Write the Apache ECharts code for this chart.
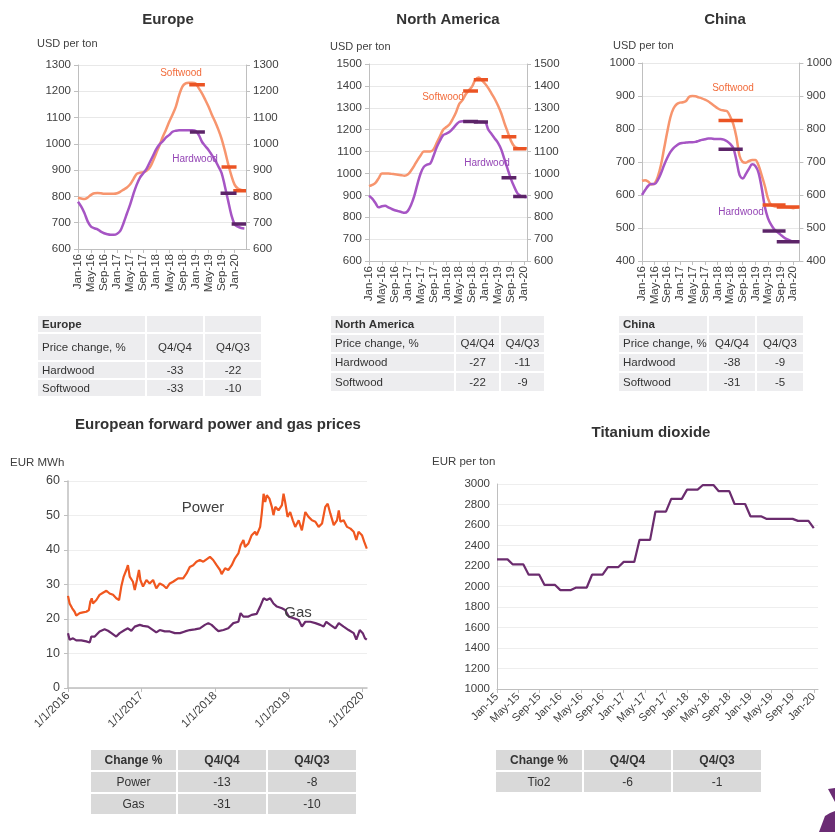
<!DOCTYPE html>
<html>
<head>
<meta charset="utf-8">
<script src="https://cdn.jsdelivr.net/npm/echarts@6/dist/echarts.min.js"></script>
<style>
  html, body { margin: 0; padding: 0; background: #ffffff; }
  #chart { width: 835px; height: 832px; }
</style>
</head>
<body>
<div id="chart"></div>
<script>
// ---------- Wood prices, USD per ton, monthly from Jan-16 ----------
const woodTickLabels = ['Jan-16', 'May-16', 'Sep-16', 'Jan-17', 'May-17', 'Sep-17', 'Jan-18',
  'May-18', 'Sep-18', 'Jan-19', 'May-19', 'Sep-19', 'Jan-20'];

const euSoftwood = [795, 792, 790, 796, 806, 812, 813, 812, 810, 810, 810, 810,
  812, 818, 826, 834, 846, 866, 886, 890, 892, 898, 910, 935,
  965, 995, 1027, 1055, 1085, 1112, 1142, 1185, 1218, 1230, 1232, 1232,
  1230, 1212, 1192, 1168, 1142, 1112, 1085, 1055, 1020, 975, 925, 880,
  845, 830, 825, 823];
const euHardwood = [780, 761, 736, 704, 685, 679, 675, 666, 660, 656, 654, 654,
  658, 670, 700, 735, 770, 810, 845, 872, 888, 905, 930, 955,
  980, 998, 1010, 1025, 1034, 1046, 1050, 1052, 1052, 1052, 1052, 1052,
  1050, 1034, 1008, 992, 977, 958, 939, 915, 890, 840, 785, 730,
  695, 685, 680, 678];

const naSoftwood = [942, 948, 957, 978, 1000, 1000, 1000, 998, 996, 994, 992, 990,
  995, 1012, 1035, 1060, 1082, 1100, 1100, 1100, 1110, 1140, 1170, 1200,
  1212, 1225, 1250, 1280, 1318, 1335, 1362, 1380, 1398, 1428, 1438, 1425,
  1410, 1390, 1365, 1340, 1310, 1275, 1230, 1190, 1150, 1125, 1116, 1115,
  1115, 1115];
const naHardwood = [898, 885, 865, 845, 850, 852, 845, 838, 832, 828, 824, 820,
  828, 855, 895, 950, 1000, 1030, 1040, 1045, 1080, 1120, 1150, 1175,
  1182, 1190, 1205, 1222, 1236, 1238, 1237, 1237, 1237, 1236, 1236, 1235,
  1234, 1200, 1180, 1160, 1140, 1110, 1065, 1020, 975, 940, 910, 898,
  893, 892];

const cnSoftwood = [643, 645, 640, 632, 635, 655, 690, 740, 790, 835, 862, 875,
  880, 881, 885, 898, 900, 899, 896, 893, 889, 884, 877, 870,
  863, 858, 856, 854, 838, 815, 775, 718, 700, 698, 703, 706,
  706, 690, 660, 628, 590, 570, 566, 565, 564, 564, 563, 562,
  560, 562, 564];
const cnHardwood = [600, 615, 628, 633, 633, 645, 665, 690, 712, 730, 742, 750,
  756, 758, 759, 760, 760, 761, 764, 767, 769, 771, 771, 770,
  770, 770, 768, 763, 755, 742, 705, 660, 650, 664, 680, 693,
  688, 668, 622, 565, 530, 510, 496, 488, 480, 472, 466, 462,
  459, 459, 460];

// Quarterly average bars: [from month, to month, value]
const euSoftQuarters = [[34.1, 38.9, 1225], [44.0, 48.6, 912], [47.6, 51.5, 822]];
const euHardQuarters = [[34.3, 38.9, 1045], [43.7, 48.6, 812], [47.1, 51.5, 695]];
const naSoftQuarters = [[29.2, 33.8, 1377], [32.5, 36.9, 1428], [41.1, 45.7, 1168], [44.7, 48.8, 1113]];
const naHardQuarters = [[29.2, 33.8, 1237], [32.5, 36.9, 1235], [41.1, 45.7, 980], [44.7, 48.8, 895]];
const cnSoftQuarters = [[24.3, 32.0, 826], [38.3, 45.6, 570], [42.8, 50.0, 564]];
const cnHardQuarters = [[24.3, 32.0, 739], [38.3, 45.6, 491], [42.8, 50.0, 458]];

// Price change tables, %
const woodTableHead = ['Price change, %', 'Q4/Q4', 'Q4/Q3'];
const euHardChange = [-33, -22];
const euSoftChange = [-33, -10];
const naHardChange = [-27, -11];
const naSoftChange = [-22, -9];
const cnHardChange = [-38, -9];
const cnSoftChange = [-31, -5];

// ---------- European forward power and gas, EUR/MWh ----------
const powerTickLabels = ['1/1/2016', '1/1/2017', '1/1/2018', '1/1/2019', '1/1/2020'];
const powerDates = ['2016-01-01', '2016-01-09', '2016-01-22', '2016-02-03', '2016-02-11', '2016-02-28',
  '2016-03-15', '2016-04-01', '2016-04-14', '2016-04-21', '2016-04-28', '2016-05-04', '2016-05-21',
  '2016-06-06', '2016-06-23', '2016-07-10', '2016-07-26', '2016-08-12', '2016-08-28', '2016-09-11',
  '2016-09-22', '2016-10-04', '2016-10-17', '2016-10-25', '2016-11-03', '2016-11-19', '2016-11-28',
  '2016-12-09', '2016-12-19', '2016-12-26', '2017-01-08', '2017-01-25', '2017-02-10', '2017-02-27',
  '2017-03-15', '2017-04-01', '2017-04-18', '2017-05-04', '2017-05-21', '2017-06-06', '2017-07-01',
  '2017-07-26', '2017-08-12', '2017-08-28', '2017-09-14', '2017-09-30', '2017-10-17', '2017-11-03',
  '2017-11-19', '2017-12-06', '2017-12-22', '2018-01-08', '2018-01-25', '2018-02-02', '2018-02-19',
  '2018-03-07', '2018-03-24', '2018-04-09', '2018-04-26', '2018-05-07', '2018-05-21', '2018-05-29',
  '2018-06-15', '2018-07-01', '2018-07-18', '2018-07-26', '2018-08-12', '2018-08-20', '2018-08-29',
  '2018-09-06', '2018-09-14', '2018-09-27', '2018-10-09', '2018-10-17', '2018-10-26', '2018-11-11',
  '2018-11-28', '2018-12-06', '2018-12-14', '2018-12-26', '2019-01-08', '2019-01-21', '2019-02-02',
  '2019-02-19', '2019-03-07', '2019-03-24', '2019-04-09', '2019-04-26', '2019-05-13', '2019-05-29',
  '2019-06-15', '2019-07-01', '2019-07-13', '2019-07-26', '2019-08-12', '2019-08-28', '2019-09-06',
  '2019-09-14', '2019-09-30', '2019-10-17', '2019-11-03', '2019-11-19', '2019-12-02', '2019-12-13',
  '2019-12-30', '2020-01-10', '2020-01-23'];
const powerValues = [26.7, 24.5, 23.1, 22.1, 21.0, 21.7,
  21.9, 22.1, 22.6, 25.0, 26.0, 24.5, 25.5,
  27.0, 27.6, 28.2, 27.4, 27.0, 26.0, 25.5,
  29.4, 32.3, 34.2, 35.6, 32.3, 30.8, 28.4,
  31.3, 34.2, 31.3, 29.4, 31.3, 30.3, 31.3,
  28.9, 30.3, 29.8, 28.9, 30.3, 30.8, 31.8,
  31.8, 33.2, 35.1, 35.6, 36.6, 37.1, 36.6,
  37.3, 38.0, 37.1, 35.6, 34.2, 33.0, 34.7,
  34.2, 35.6, 37.6, 39.0, 41.4, 42.9, 40.9,
  41.9, 44.3, 45.3, 44.3, 46.7, 50.6, 56.3,
  53.9, 55.9, 54.9, 52.5, 50.1, 52.5, 51.5,
  53.0, 56.3, 53.9, 49.6, 51.0, 48.6, 46.7,
  48.6, 45.7, 51.0, 49.6, 48.6, 48.2, 46.7,
  47.7, 52.5, 53.4, 50.6, 47.2, 48.6, 51.5,
  48.2, 48.6, 46.7, 46.2, 45.3, 42.9, 45.3,
  44.3, 42.4, 40.4];
const gasDates = ['2016-01-01', '2016-01-09', '2016-01-26', '2016-02-11', '2016-03-07', '2016-04-01',
  '2016-04-18', '2016-04-26', '2016-05-13', '2016-06-06', '2016-07-01', '2016-07-18', '2016-08-04',
  '2016-08-28', '2016-09-14', '2016-10-09', '2016-10-25', '2016-11-11', '2016-11-28', '2016-12-23',
  '2017-01-08', '2017-02-02', '2017-02-27', '2017-03-15', '2017-04-01', '2017-04-26', '2017-05-21',
  '2017-06-15', '2017-07-10', '2017-08-04', '2017-08-28', '2017-09-22', '2017-10-17', '2017-11-11',
  '2017-11-28', '2017-12-14', '2018-01-01', '2018-01-17', '2018-02-11', '2018-03-07', '2018-04-01',
  '2018-04-26', '2018-05-07', '2018-05-21', '2018-06-15', '2018-07-01', '2018-07-26', '2018-08-12',
  '2018-08-29', '2018-09-14', '2018-10-01', '2018-10-17', '2018-11-03', '2018-11-28', '2018-12-14',
  '2019-01-01', '2019-01-26', '2019-02-19', '2019-03-07', '2019-03-24', '2019-04-18', '2019-05-13',
  '2019-06-06', '2019-06-23', '2019-07-06', '2019-07-26', '2019-08-20', '2019-09-06', '2019-09-30',
  '2019-10-25', '2019-11-19', '2019-12-02', '2019-12-19', '2020-01-03', '2020-01-14', '2020-01-23'];
const gasValues = [15.9, 14.0, 14.4, 13.8, 13.8, 13.5,
  13.2, 14.9, 14.9, 16.4, 17.0, 16.6, 15.9,
  14.9, 15.9, 16.8, 17.3, 16.6, 17.8, 18.3,
  18.0, 17.8, 16.8, 16.1, 16.8, 16.4, 16.4,
  15.9, 15.9, 16.4, 16.8, 17.0, 17.3, 18.3,
  18.8, 18.3, 17.3, 16.5, 16.8, 17.3, 18.8,
  19.2, 21.7, 20.7, 20.7, 21.2, 21.5, 23.6,
  26.0, 25.5, 26.0, 24.5, 23.6, 23.1, 22.6,
  20.7, 20.2, 19.7, 17.8, 19.2, 19.2, 18.8,
  18.3, 17.8, 19.2, 18.3, 17.3, 18.8, 17.8,
  16.8, 15.9, 14.0, 16.8, 15.9, 14.4, 14.0];
const powerChange = [-13, -8];
const gasChange = [-31, -10];
const energyTableHead = ['Change %', 'Q4/Q4', 'Q4/Q3'];

// ---------- Titanium dioxide, EUR per ton, monthly from Jan-15 ----------
const tiTickLabels = ['Jan-15', 'May-15', 'Sep-15', 'Jan-16', 'May-16', 'Sep-16', 'Jan-17', 'May-17',
  'Sep-17', 'Jan-18', 'May-18', 'Sep-18', 'Jan-19', 'May-19', 'Sep-19', 'Jan-20'];
const tiValues = [2265, 2265, 2265, 2215, 2215, 2215, 2115, 2115, 2115, 2015, 2015, 2015,
  1965, 1965, 1965, 1990, 1990, 1990, 2115, 2115, 2115, 2190, 2190, 2190,
  2240, 2240, 2240, 2455, 2455, 2455, 2730, 2730, 2730, 2855, 2855, 2855,
  2945, 2945, 2945, 2990, 2990, 2990, 2930, 2930, 2930, 2805, 2805, 2805,
  2685, 2685, 2685, 2660, 2660, 2660, 2660, 2660, 2660, 2640, 2640, 2640,
  2570];
const tio2Change = [-6, -1];

// ---------- styling ----------
const FONT = '"Liberation Sans", Arial, sans-serif';
const TEXT = '#404040';
const AXIS = '#BFBFBF';
const GRIDLINE = '#E8E8E8';
const SOFT = '#F7956E', SOFT_BAR = '#EB5424', SOFT_TXT = '#F26C3C';
const HARD = '#A655C4', HARD_BAR = '#5C2468', HARD_TXT = '#9445B5';
const plain = v => String(v);

const woodTickIdx = woodTickLabels.map((_, i) => i * 4);
const tiTickIdx = tiTickLabels.map((_, i) => i * 4);
const powerTickYears = powerTickLabels.map((_, i) => 2016 + i);

function toYear(d) {
  const t = Date.parse(d + 'T00:00:00Z');
  const y = new Date(t).getUTCFullYear();
  const s = Date.UTC(y, 0, 1), e = Date.UTC(y + 1, 0, 1);
  return y + (t - s) / (e - s);
}

const grids = [
  { left: 78, top: 65, width: 168, height: 184 },    // Europe
  { left: 369, top: 64, width: 158, height: 197 },   // North America
  { left: 642, top: 63, width: 159, height: 198 },   // China
  { left: 68, top: 481, width: 299, height: 207 },   // power & gas
  { left: 497, top: 484, width: 321, height: 205 }   // TiO2
].map(g => Object.assign({ containLabel: false }, g));

function woodX(gi, max) {
  return {
    type: 'value', gridIndex: gi, min: 0, max: max,
    axisLine: { show: true, onZero: false, lineStyle: { color: AXIS } },
    axisTick: { show: true, customValues: woodTickIdx, length: 4, lineStyle: { color: AXIS } },
    axisLabel: {
      customValues: woodTickIdx, rotate: 90, margin: 5, color: TEXT, fontSize: 11.5, fontFamily: FONT,
      formatter: v => woodTickLabels[Math.round(v / 4)]
    },
    splitLine: { show: false }
  };
}
function woodY(gi, min, max, pos) {
  return {
    type: 'value', gridIndex: gi, position: pos, min: min, max: max, interval: 100,
    axisLine: { show: true, lineStyle: { color: AXIS } },
    axisTick: { show: true, length: 4, lineStyle: { color: AXIS } },
    axisLabel: { color: TEXT, fontSize: 11.5, fontFamily: FONT, margin: 7, formatter: plain },
    splitLine: { show: pos === 'left', lineStyle: { color: GRIDLINE } }
  };
}

const xAxes = [
  woodX(0, 51.5), woodX(1, 49), woodX(2, 50),
  {
    type: 'value', gridIndex: 3, min: 2016, max: toYear('2020-01-24'),
    axisLine: { show: true, onZero: false, lineStyle: { color: AXIS, width: 1.5 } },
    axisTick: { show: true, customValues: powerTickYears, length: 4, lineStyle: { color: AXIS } },
    axisLabel: {
      customValues: powerTickYears, rotate: 45, margin: 6, color: TEXT, fontSize: 11.5, fontFamily: FONT,
      formatter: v => powerTickLabels[Math.round(v) - 2016]
    },
    splitLine: { show: false }
  },
  {
    type: 'value', gridIndex: 4, min: 0, max: 60.8,
    axisLine: { show: true, onZero: false, lineStyle: { color: AXIS } },
    axisTick: { show: true, customValues: tiTickIdx, length: 4, lineStyle: { color: AXIS } },
    axisLabel: {
      customValues: tiTickIdx, rotate: 45, margin: 6, color: TEXT, fontSize: 11, fontFamily: FONT,
      formatter: v => tiTickLabels[Math.round(v / 4)]
    },
    splitLine: { show: false }
  }
];

const yAxes = [
  woodY(0, 600, 1300, 'left'), woodY(0, 600, 1300, 'right'),
  woodY(1, 600, 1500, 'left'), woodY(1, 600, 1500, 'right'),
  woodY(2, 400, 1000, 'left'), woodY(2, 400, 1000, 'right'),
  {
    type: 'value', gridIndex: 3, min: 0, max: 60, interval: 10,
    axisLine: { show: true, lineStyle: { color: AXIS, width: 1.5 } },
    axisTick: { show: true, length: 4, lineStyle: { color: AXIS } },
    axisLabel: { color: TEXT, fontSize: 12.5, fontFamily: FONT, margin: 8, formatter: plain },
    splitLine: { show: true, lineStyle: { color: '#EEEEEE' } }
  },
  {
    type: 'value', gridIndex: 4, min: 1000, max: 3000, interval: 200,
    axisLine: { show: true, lineStyle: { color: AXIS } },
    axisTick: { show: false },
    axisLabel: { color: TEXT, fontSize: 11.5, fontFamily: FONT, margin: 7, formatter: plain },
    splitLine: { show: true, lineStyle: { color: '#EEEEEE' } }
  }
];

const series = [];
function monthly(values) { return values.map((v, i) => [i, v]); }
function addLine(ai, data, color, width, smooth, z) {
  series.push({
    type: 'line', xAxisIndex: ai, yAxisIndex: ai === 3 ? 6 : ai === 4 ? 7 : ai * 2,
    data: data, symbol: 'none', smooth: smooth, z: z || 2,
    lineStyle: { color: color, width: width }, emphasis: { disabled: true }
  });
}
function addQuarters(ai, bars, color) {
  bars.forEach(([x0, x1, v]) => addLine(ai, [[x0, v], [x1, v]], color, 3.5, false, 4));
}

addLine(0, monthly(euSoftwood), SOFT, 2.5, 0.35);
addLine(0, monthly(euHardwood), HARD, 2.5, 0.35);
addQuarters(0, euSoftQuarters, SOFT_BAR);
addQuarters(0, euHardQuarters, HARD_BAR);

addLine(1, monthly(naSoftwood), SOFT, 2.5, 0.35);
addLine(1, monthly(naHardwood), HARD, 2.5, 0.35);
addQuarters(1, naSoftQuarters, SOFT_BAR);
addQuarters(1, naHardQuarters, HARD_BAR);

addLine(2, monthly(cnSoftwood), SOFT, 2.5, 0.35);
addLine(2, monthly(cnHardwood), HARD, 2.5, 0.35);
addQuarters(2, cnSoftQuarters, SOFT_BAR);
addQuarters(2, cnHardQuarters, HARD_BAR);

addLine(3, powerDates.map((d, i) => [toYear(d), powerValues[i]]), '#F0571F', 2.2, false);
addLine(3, gasDates.map((d, i) => [toYear(d), gasValues[i]]), '#6A2A6C', 2.2, false);

addLine(4, monthly(tiValues), '#6B2C6E', 2.2, false);

// ---------- text and tables ----------
const g = [];
function text(x, y, str, font, color, align) {
  g.push({
    type: 'text', x: x, y: y, z: 10,
    style: { text: str, font: font, fill: color || TEXT, align: align || 'left', verticalAlign: 'middle' }
  });
}
function table(cols, rowsY, rows, opt) {
  for (let r = 0; r < rows.length; r++) {
    for (let c = 0; c < cols.length - 1; c++) {
      g.push({
        type: 'rect', z: 1,
        shape: { x: cols[c] + 1, y: rowsY[r] + 1, width: cols[c + 1] - cols[c] - 2, height: rowsY[r + 1] - rowsY[r] - 2 },
        style: { fill: opt.bg }
      });
      const val = rows[r][c];
      if (val === '' || val == null) continue;
      const leftAlign = opt.leftFirst && c === 0;
      const bold = opt.boldRows.indexOf(r) >= 0;
      text(leftAlign ? cols[0] + 5 : (cols[c] + cols[c + 1]) / 2,
        (rowsY[r] + rowsY[r + 1]) / 2 + 0.5, String(val),
        (bold ? 'bold ' : '') + opt.size + 'px ' + opt.font, '#333333', leftAlign ? 'left' : 'center');
    }
  }
}

// chart titles and axis captions
text(168, 20, 'Europe', 'bold 15px ' + FONT, '#333333', 'center');
text(448, 20, 'North America', 'bold 15px ' + FONT, '#333333', 'center');
text(725, 20, 'China', 'bold 15px ' + FONT, '#333333', 'center');
text(218, 425, 'European forward power and gas prices', 'bold 15px ' + FONT, '#333333', 'center');
text(651, 433, 'Titanium dioxide', 'bold 15px ' + FONT, '#333333', 'center');
text(37, 44, 'USD per ton', '11px ' + FONT);
text(330, 47, 'USD per ton', '11px ' + FONT);
text(613, 46, 'USD per ton', '11px ' + FONT);
text(10, 463, 'EUR MWh', '11.5px ' + FONT);
text(432, 462, 'EUR per ton', '11.5px ' + FONT);

// series captions
text(181, 73, 'Softwood', '10px ' + FONT, SOFT_TXT, 'center');
text(195, 159, 'Hardwood', '10px ' + FONT, HARD_TXT, 'center');
text(443, 97, 'Softwood', '10px ' + FONT, SOFT_TXT, 'center');
text(487, 163, 'Hardwood', '10px ' + FONT, HARD_TXT, 'center');
text(733, 88, 'Softwood', '10px ' + FONT, SOFT_TXT, 'center');
text(741, 212, 'Hardwood', '10px ' + FONT, HARD_TXT, 'center');
text(203, 508, 'Power', '15px ' + FONT, TEXT, 'center');
text(298, 613, 'Gas', '15px ' + FONT, TEXT, 'center');

// price change tables
const woodOpt = { bg: '#EDEDEF', leftFirst: true, boldRows: [0], size: 11.5, font: FONT };
table([37, 146, 204, 262], [315, 333, 361, 379, 397],
  [['Europe', '', ''], woodTableHead, ['Hardwood'].concat(euHardChange), ['Softwood'].concat(euSoftChange)], woodOpt);
table([330, 455, 500, 545], [315, 334, 353, 372, 392],
  [['North America', '', ''], woodTableHead, ['Hardwood'].concat(naHardChange), ['Softwood'].concat(naSoftChange)], woodOpt);
table([618, 708, 756, 804], [315, 334, 353, 372, 392],
  [['China', '', ''], woodTableHead, ['Hardwood'].concat(cnHardChange), ['Softwood'].concat(cnSoftChange)], woodOpt);

const energyOpt = { bg: '#D9D9D9', leftFirst: false, boldRows: [0], size: 12, font: FONT };
table([90, 177, 267, 357], [749, 771, 793, 815],
  [energyTableHead, ['Power'].concat(powerChange), ['Gas'].concat(gasChange)], energyOpt);
table([495, 583, 672, 762], [749, 771, 793],
  [energyTableHead, ['Tio2'].concat(tio2Change)], energyOpt);

// corner logo fragment
g.push({ type: 'polygon', z: 1, shape: { points: [[828, 789], [835, 788], [835, 802]] }, style: { fill: '#6B2C74' } });
g.push({ type: 'polygon', z: 1, shape: { points: [[819, 832], [825, 816], [830, 813], [835, 811], [835, 832]] }, style: { fill: '#6B2C74' } });

const chart = echarts.init(document.getElementById('chart'), null, { renderer: 'canvas' });
chart.setOption({
  animation: false,
  backgroundColor: '#ffffff',
  grid: grids,
  xAxis: xAxes,
  yAxis: yAxes,
  series: series,
  graphic: { elements: g }
});
</script>
</body>
</html>
